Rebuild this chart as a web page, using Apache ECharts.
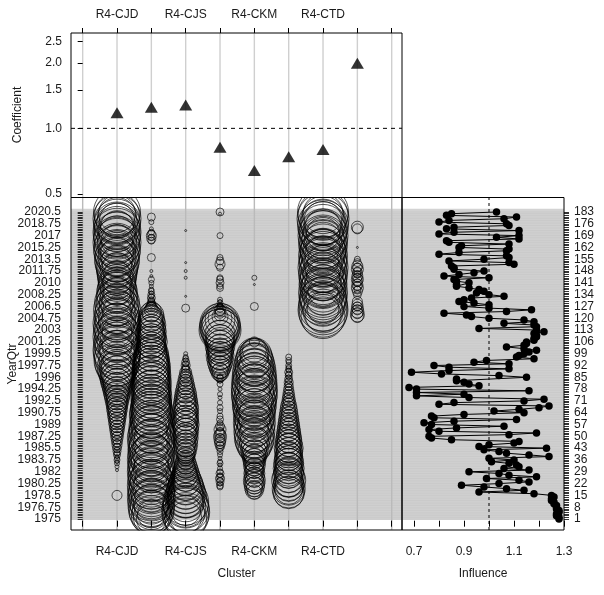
<!DOCTYPE html>
<html><head><meta charset="utf-8">
<script src="https://cdn.jsdelivr.net/npm/echarts@6/dist/echarts.min.js"></script>
<style>html,body{margin:0;padding:0;background:#fff}#c{width:604px;height:595px}</style>
</head><body><div id="c"></div>
<script>
// ---------- data ----------
const clusterLabels = ['', 'R4-CJD', '', 'R4-CJS', '', 'R4-CKM', '', 'R4-CTD', '', ''];
const clusterPositions = [0,1,2,3,4,5,6,7,8,9];
const clusterLabelPositions = [1,3,5,7];
const coefficients = [1.18, 1.25, 1.28, 0.82, 0.64, 0.74, 0.80, 1.99];
const coefTicks = [0.5, 1.0, 1.5, 2.0, 2.5];
const influenceTicks = [0.7, 0.8, 0.9, 1.0, 1.1, 1.2, 1.3];
const influenceLabels = [0.7, 0.9, 1.1, 1.3];
const rowLabelRows = [1,8,15,22,29,36,43,50,57,64,71,78,85,92,99,106,113,120,127,134,141,148,155,162,169,176,183];
const yearLabels = ['1975','1976.75','1978.5','1980.25','1982','1983.75','1985.5','1987.25','1989','1990.75','1992.5','1994.25','1996','1997.75','1999.5','2001.25','2003','2004.75','2006.5','2008.25','2010','2011.75','2013.5','2015.25','2017','2018.75','2020.5'];

// influence per row (row 1 = 1975 ... row 183 = 2020.5)
const influence = [
1.28,1.28,1.27,1.27,1.28,1.28,1.27,1.27,1.27,1.26,
1.26,1.25,1.25,1.26,1.25,1.18,0.96,1.14,1.07,0.98,
0.89,1.04,1.16,1.12,0.99,1.19,1.08,1.04,0.92,1.16,
1.06,1.12,1.11,1.08,1.01,1.10,1.00,1.24,1.16,1.07,
1.04,0.98,1.23,0.96,1.00,1.10,1.12,0.85,0.77,0.76,
1.08,1.19,0.80,0.76,0.87,1.06,0.77,0.74,0.86,1.11,
0.78,0.77,0.90,1.14,1.02,1.12,1.20,1.24,0.80,0.86,
1.14,1.22,0.92,0.71,0.90,0.71,1.16,0.71,0.68,0.96,
0.92,0.90,0.87,0.87,1.15,1.04,0.81,0.69,0.84,1.08,
0.84,0.78,1.08,0.94,0.99,1.18,1.11,1.12,1.14,1.16,
1.19,1.14,1.07,1.14,1.15,1.15,1.18,1.18,1.19,1.19,
1.18,1.22,1.19,0.96,1.19,1.18,1.06,1.18,1.14,1.00,
0.93,0.91,0.82,1.07,1.17,1.00,0.90,1.00,0.94,0.88,
0.90,0.93,1.06,1.00,0.95,0.98,0.96,0.92,0.87,0.87,
0.92,0.87,0.86,1.00,0.82,0.88,0.94,0.98,0.86,0.86,
0.85,1.10,1.08,0.84,0.98,1.08,1.07,0.80,0.88,1.07,
1.08,0.88,0.89,1.08,0.84,0.83,1.12,1.03,1.12,0.80,
0.86,1.12,0.83,0.86,1.08,1.07,0.80,0.84,1.06,1.11,
0.83,0.85,1.03];

// bubble sizes per row for each cluster column (0 = no bubble)
const clusterCJD = [
0,0,0,0,0,0,0,0,0,0,
0,0,0,0,10,0,0,0,0,0,
0,0,0,0,0,0,0,0,0,3,
0,4,0,5,4,6,5,4,7,6,
8,6,9,7,10,8,11,9,12,10,
13,11,14,12,15,13,16,14,17,15,
18,16,19,17,20,18,21,19,22,20,
23,21,25,22,26,24,28,25,29,27,
31,28,33,30,34,32,36,33,38,35,
40,32,44,36,46,28,45,38,47,34,
48,36,44,30,47,40,45,33,48,38,
44,30,47,39,46,34,48,37,44,31,
46,38,44,29,47,36,43,32,45,35,
42,30,40,34,41,28,39,33,38,30,
37,28,38,32,39,27,40,34,41,30,
42,35,44,31,45,38,43,33,46,37,
47,34,45,39,48,32,46,40,47,36,
48,38,45,33,47,41,46,35,48,39,
45,37,47];
const cluster2 = [
30,36,40,28,44,38,46,34,42,47,
36,45,40,48,33,46,41,47,37,44,
48,35,45,42,47,32,46,39,48,36,
44,47,34,46,40,48,35,45,42,47,
38,46,33,44,47,36,45,41,48,34,
46,39,44,32,45,40,43,35,42,38,
41,44,40,43,39,42,38,41,40,37,
40,38,41,37,39,36,40,38,35,39,
37,40,36,38,35,39,37,34,38,36,
38,35,37,34,36,33,35,32,34,31,
31,28,30,27,29,32,28,30,26,29,
27,30,26,28,25,29,24,27,23,26,
22,25,18,20,14,12,10,9,8,7,
6,8,5,7,4,6,5,0,4,0,
5,0,6,0,3,0,0,3,0,0,
0,0,0,0,0,8,0,0,0,0,
0,0,0,0,0,7,9,6,10,8,
6,0,4,0,0,0,5,0,0,8,
0,0,0];
const clusterCJS = [
42,32,46,38,48,30,47,40,45,36,
46,34,38,42,36,40,34,38,32,36,
30,34,28,31,26,29,24,27,22,25,
20,23,18,21,16,19,15,18,17,20,
19,22,18,21,24,20,23,19,25,22,
24,21,26,23,25,22,27,24,26,23,
25,22,26,24,23,26,22,25,21,24,
20,23,19,22,18,21,16,19,15,18,
14,16,12,15,11,13,10,12,9,8,
7,9,6,8,5,6,5,0,4,0,
0,0,0,0,0,0,0,0,0,0,
0,0,0,0,0,0,0,0,0,0,
0,0,0,0,0,8,0,0,0,0,
0,0,2,0,0,0,0,0,0,0,
0,0,0,3,0,0,0,3,0,0,
0,0,2,0,0,0,0,0,0,0,
0,0,0,0,0,0,0,0,0,0,
0,2,0,0,0,0,0,0,0,0,
0,0,0];
const cluster4 = [
0,0,0,0,0,0,0,0,0,0,
0,0,0,0,0,0,0,0,0,6,
7,5,8,6,9,7,5,8,6,0,
5,0,4,6,5,0,4,0,5,0,
6,0,7,9,8,11,10,12,9,13,
11,10,8,12,7,9,0,6,0,7,
0,6,0,0,5,0,6,0,0,5,
0,0,4,0,5,0,0,4,0,0,
6,0,5,8,6,12,15,18,16,20,
22,19,24,21,26,23,25,28,24,27,
25,28,26,30,27,29,31,28,33,30,
35,38,42,39,41,37,40,36,30,24,
16,12,10,9,11,8,6,5,6,4,
5,0,0,0,0,0,0,7,6,0,
8,0,7,6,0,0,0,0,0,7,
0,10,0,8,0,6,0,0,0,0,
0,0,0,0,0,0,0,0,6,0,
0,0,0,0,0,0,0,0,0,0,
0,3,8];
const clusterCKM = [
0,0,0,0,0,0,0,0,0,0,
0,0,0,0,0,0,14,18,16,20,
17,21,19,22,18,20,16,21,19,17,
20,18,22,19,21,23,20,24,22,26,
24,28,32,26,35,30,38,28,40,33,
39,30,41,35,28,40,34,42,31,38,
40,33,42,36,30,41,43,35,44,38,
43,36,45,40,46,32,45,39,46,34,
44,37,45,31,42,44,36,39,43,33,
38,41,30,39,34,37,28,35,30,28,
24,0,0,0,0,10,0,0,0,0,
0,0,0,0,0,0,0,0,0,0,
0,0,0,0,0,0,8,0,0,0,
0,0,0,0,0,0,0,0,0,2,
0,0,0,5,0,0,0,0,0,0,
0,0,0,0,0,0,0,0,0,0,
0,0,0,0,0,0,0,0,0,0,
0,0,0,0,0,0,0,0,0,0,
0,0,0];
const cluster6 = [
0,0,0,0,0,0,0,0,0,0,
0,0,0,0,0,30,32,28,33,29,
31,27,30,34,28,32,26,30,29,27,
31,28,26,30,27,29,25,28,26,24,
28,25,29,26,24,27,23,26,22,25,
21,24,20,23,19,22,18,21,17,20,
16,19,15,18,14,17,13,16,12,14,
11,13,10,12,9,11,8,10,7,9,
7,9,6,8,5,7,6,8,5,6,
5,6,0,5,6,0,6,0,0,0,
0,0,0,0,0,0,0,0,0,0,
0,0,0,0,0,0,0,0,0,0,
0,0,0,0,0,0,0,0,0,0,
0,0,0,0,0,0,0,0,0,0,
0,0,0,0,0,0,0,0,0,0,
0,0,0,0,0,0,0,0,0,0,
0,0,0,0,0,0,0,0,0,0,
0,0,0,0,0,0,0,0,0,0,
0,0,0];
const clusterCTD = [
0,0,0,0,0,0,0,0,0,0,
0,0,0,0,0,0,0,0,0,0,
0,0,0,0,0,0,0,0,0,0,
0,0,0,0,0,0,0,0,0,0,
0,0,0,0,0,0,0,0,0,0,
0,0,0,0,0,0,0,0,0,0,
0,0,0,0,0,0,0,0,0,0,
0,0,0,0,0,0,0,0,0,0,
0,0,0,0,0,0,0,0,0,0,
0,0,0,0,0,0,0,0,0,0,
0,0,0,0,0,0,0,0,0,0,
0,0,0,0,0,0,0,0,0,0,
44,36,48,40,50,32,49,43,38,48,
46,34,47,41,49,30,45,38,43,48,
36,47,42,46,33,49,40,47,35,50,
44,38,48,31,47,42,49,36,46,45,
40,47,34,49,44,37,48,42,50,33,
47,40,49,36,51,44,46,38,52,42,
50,40,51];
const cluster8 = [
0,0,0,0,0,0,0,0,0,0,
0,0,0,0,0,0,0,0,0,0,
0,0,0,0,0,0,0,0,0,0,
0,0,0,0,0,0,0,0,0,0,
0,0,0,0,0,0,0,0,0,0,
0,0,0,0,0,0,0,0,0,0,
0,0,0,0,0,0,0,0,0,0,
0,0,0,0,0,0,0,0,0,0,
0,0,0,0,0,0,0,0,0,0,
0,0,0,0,0,0,0,0,0,0,
0,0,0,0,0,0,0,0,0,0,
0,0,0,0,0,0,0,0,0,0,
12,14,11,13,10,12,9,11,0,10,
0,0,0,8,0,10,7,12,9,11,
8,10,12,9,11,7,10,8,12,9,
11,0,8,0,6,0,0,0,0,0,
0,2,0,0,0,0,0,0,0,0,
0,0,10,12,0,0,0,0,0,0,
0,0,0];
const clusterColumns = [clusterCJD, cluster2, clusterCJS, cluster4, clusterCKM, cluster6, clusterCTD, cluster8];

// ---------- layout ----------
const rows = influence.map((v, i) => i + 1);
const X_MIN = -0.34, X_MAX = 9.3;
const Y_MIN = -5.52, Y_MAX = 191.3;
const BAND_LO = 0.4, BAND_HI = 184.9;
const FONT = "'Liberation Sans', Arial, sans-serif";
const TXT = '#1a1a1a';

const chart = echarts.init(document.getElementById('c'), null, {renderer: 'canvas'});

function vgrid(idx, z, color) {
  return {
    type: 'custom', xAxisIndex: idx, yAxisIndex: idx, z: z, silent: true,
    data: clusterPositions,
    renderItem: (params, api) => {
      const cs = params.coordSys;
      const x = api.coord([api.value(0), idx === 0 ? 1 : 0])[0];
      return {type: 'line', shape: {x1: x, y1: cs.y, x2: x, y2: cs.y + cs.height},
              style: {stroke: color, lineWidth: 1.4}};
    }
  };
}
function band(idx) {
  return [{
    type: 'custom', xAxisIndex: idx, yAxisIndex: idx, z: 0, silent: true,
    data: [[BAND_LO, BAND_HI]],
    renderItem: (params, api) => {
      const cs = params.coordSys;
      const xv = idx === 1 ? 0 : 1;
      const y1 = api.coord([xv, api.value(1)])[1];
      const y2 = api.coord([xv, api.value(0)])[1];
      return {type: 'rect', shape: {x: cs.x, y: y1, width: cs.width, height: y2 - y1},
              style: {fill: '#d3d3d3'}};
    }
  }, {
    type: 'custom', xAxisIndex: idx, yAxisIndex: idx, z: 0, silent: true,
    data: rows,
    renderItem: (params, api) => {
      const cs = params.coordSys;
      const xv = idx === 1 ? 0 : 1;
      const y = api.coord([xv, api.value(0)])[1];
      return {type: 'line', shape: {x1: cs.x, y1: y, x2: cs.x + cs.width, y2: y},
              style: {stroke: '#c6c6c6', lineWidth: 0.7}};
    }
  }];
}

const series = [];
series.push(...band(1), ...band(2));
series.push(vgrid(1, 1, '#bababa'));
series.push(vgrid(0, 6, '#cfcfcf'));

clusterColumns.forEach((col, ci) => {
  const data = [];
  col.forEach((s, ri) => { if (s > 0) data.push([ci + 1, ri + 1, s]); });
  series.push({
    type: 'scatter', xAxisIndex: 1, yAxisIndex: 1, z: 2, silent: true,
    symbol: 'circle', symbolSize: d => d[2], data: data,
    itemStyle: {color: 'rgba(0,0,0,0)', borderColor: 'rgba(0,0,0,0.82)', borderWidth: 1}
  });
});

// top panel
series.push({
  type: 'line', xAxisIndex: 0, yAxisIndex: 0, z: 7, silent: true, symbol: 'none',
  data: [[X_MIN, 1], [X_MAX, 1]],
  lineStyle: {color: '#000', width: 1, type: [4, 4]}
});
series.push({
  type: 'scatter', xAxisIndex: 0, yAxisIndex: 0, z: 8, silent: true,
  symbol: 'triangle', symbolSize: [13, 11],
  data: coefficients.map((v, i) => [i + 1, v]),
  itemStyle: {color: '#000'}
});

// influence panel
series.push({
  type: 'line', xAxisIndex: 2, yAxisIndex: 2, z: 3, silent: true, symbol: 'none',
  data: [[1, Y_MIN], [1, Y_MAX]],
  lineStyle: {color: '#000', width: 1, type: [3, 3]}
});
series.push({
  type: 'line', xAxisIndex: 2, yAxisIndex: 2, z: 4, silent: true,
  symbol: 'circle', symbolSize: 7.5, showAllSymbol: true,
  data: influence.map((v, i) => [v, i + 1]),
  itemStyle: {color: '#000'},
  lineStyle: {color: '#000', width: 1}
});

const labelStyle = {color: TXT, fontSize: 12, fontFamily: FONT};
const tickStyle = {lineStyle: {color: '#000', width: 1}};
const gridBase = {containLabel: false, outerBoundsMode: 'none'};

const option = {
  animation: false,
  backgroundColor: '#fff',
  textStyle: {fontFamily: FONT},
  grid: [
    Object.assign({left: 71, top: 33, width: 331, height: 164}, gridBase),
    Object.assign({left: 71, top: 198, width: 331, height: 332}, gridBase),
    Object.assign({left: 402, top: 198, width: 162, height: 332}, gridBase)
  ],
  xAxis: [
    {gridIndex: 0, type: 'value', min: X_MIN, max: X_MAX, position: 'top', z: 10,
     axisLine: {show: false}, splitLine: {show: false},
     axisTick: Object.assign({customValues: clusterPositions, length: 5}, tickStyle),
     axisLabel: Object.assign({customValues: clusterLabelPositions, margin: 12,
       formatter: v => clusterLabels[Math.round(v)]}, labelStyle)},
    {gridIndex: 1, type: 'value', min: X_MIN, max: X_MAX, position: 'bottom', z: 10,
     name: 'Cluster', nameLocation: 'middle', nameGap: 38, nameMoveOverlap: false,
     nameTextStyle: labelStyle,
     axisLine: {show: false}, splitLine: {show: false},
     axisTick: Object.assign({customValues: clusterPositions, length: 6}, tickStyle),
     axisLabel: Object.assign({customValues: clusterLabelPositions, margin: 16,
       formatter: v => clusterLabels[Math.round(v)]}, labelStyle)},
    {gridIndex: 2, type: 'value', min: 0.652, max: 1.3, position: 'bottom', z: 10,
     name: 'Influence', nameLocation: 'middle', nameGap: 38, nameMoveOverlap: false,
     nameTextStyle: labelStyle,
     axisLine: {show: false}, splitLine: {show: false},
     axisTick: Object.assign({customValues: influenceTicks, length: 6}, tickStyle),
     axisLabel: Object.assign({customValues: influenceLabels, margin: 16,
       formatter: v => v.toFixed(1)}, labelStyle)}
  ],
  yAxis: [
    {gridIndex: 0, type: 'log', logBase: Math.E, min: 0.484, max: 2.74, z: 10,
     name: 'Coefficient', nameLocation: 'middle', nameGap: 47, nameRotate: 90, nameMoveOverlap: false,
     nameTextStyle: labelStyle,
     axisLine: {show: false}, splitLine: {show: false},
     axisTick: Object.assign({customValues: coefTicks, length: 5}, tickStyle),
     axisLabel: Object.assign({customValues: coefTicks, margin: 9,
       formatter: v => Number(v).toFixed(1)}, labelStyle)},
    {gridIndex: 1, type: 'value', min: Y_MIN, max: Y_MAX, z: 10,
     name: 'YearQtr', nameLocation: 'middle', nameGap: 52, nameRotate: 90, nameMoveOverlap: false,
     nameTextStyle: labelStyle,
     axisLine: {show: false}, splitLine: {show: false},
     axisTick: {customValues: rows, length: 5, lineStyle: {color: '#000', width: 0.8}},
     axisLabel: Object.assign({customValues: rowLabelRows, margin: 10,
       formatter: v => yearLabels[rowLabelRows.indexOf(Math.round(v))]}, labelStyle)},
    {gridIndex: 2, type: 'value', min: Y_MIN, max: Y_MAX, position: 'right', z: 10,
     axisLine: {show: false}, splitLine: {show: false},
     axisTick: {customValues: rows, length: 5, lineStyle: {color: '#000', width: 0.8}},
     axisLabel: Object.assign({customValues: rowLabelRows, margin: 10,
       formatter: v => String(Math.round(v))}, labelStyle)}
  ],
  graphic: [
    {type: 'rect', z: 5, silent: true, shape: {x: 0, y: 0, width: 604, height: 197.5}, style: {fill: '#fff'}},
    {type: 'rect', z: 5, silent: true, shape: {x: 60, y: 530.5, width: 350, height: 30}, style: {fill: '#fff'}},
    {type: 'rect', z: 100, silent: true, shape: {x: 71, y: 33, width: 331, height: 164.5}, style: {fill: 'none', stroke: '#000', lineWidth: 1}},
    {type: 'rect', z: 100, silent: true, shape: {x: 71, y: 197.5, width: 331, height: 332.5}, style: {fill: 'none', stroke: '#000', lineWidth: 1}},
    {type: 'rect', z: 100, silent: true, shape: {x: 402, y: 197.5, width: 162, height: 332.5}, style: {fill: 'none', stroke: '#000', lineWidth: 1}}
  ],
  series: series
};
chart.setOption(option);
</script>
</body></html>
